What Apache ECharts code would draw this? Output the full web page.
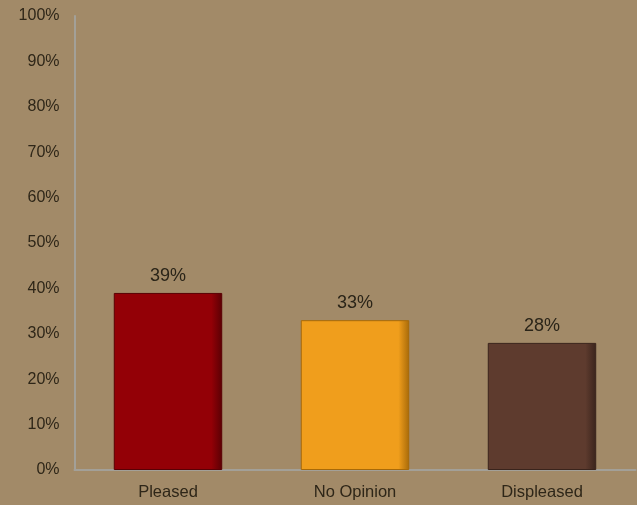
<!DOCTYPE html>
<html><head><meta charset="utf-8">
<script src="https://cdn.jsdelivr.net/npm/echarts@6/dist/echarts.min.js"></script>
<style>html,body{margin:0;padding:0;background:#a28a68;}#c{width:637px;height:505px;}</style>
</head><body><div id="c"></div>
<script>
const categories = ['Pleased', 'No Opinion', 'Displeased'];
const values = [39, 33, 28];
const barColors = ['#930006', '#f09e1c', '#5e3b2e'];
const edgeColors = ['#5a0004', '#a86a08', '#3a241c'];
const tickLabels = ['0%','10%','20%','30%','40%','50%','60%','70%','80%','90%','100%'];

const chart = echarts.init(document.getElementById('c'));
chart.setOption({
  backgroundColor: '#a28a68',
  animation: false,
  grid: { left: 74.5, right: 1.5, top: 16, bottom: 35 },
  xAxis: {
    type: 'category', data: categories,
    axisLine: { lineStyle: { color: '#a3a098', width: 2 } },
    axisTick: { show: false },
    axisLabel: { color: '#2e2618', fontSize: 16.5, fontFamily: 'Liberation Sans, Arial', margin: 14 }
  },
  yAxis: {
    type: 'value', min: 0, max: 100, interval: 10,
    axisLine: { show: true, lineStyle: { color: '#a3a098', width: 2 } },
    axisTick: { show: false },
    splitLine: { show: false },
    axisLabel: { color: '#2e2618', fontSize: 16, fontFamily: 'Liberation Sans, Arial', margin: 15,
      formatter: v => tickLabels[Math.round(v / 10)] }
  },
  series: [{
    type: 'bar', barWidth: '58%',
    data: values.map((v, i) => ({
      value: v,
      itemStyle: {
        color: { type: 'linear', x: 0, y: 0, x2: 1, y2: 0, colorStops: [
          { offset: 0, color: barColors[i] }, { offset: 0.9, color: barColors[i] }, { offset: 1, color: edgeColors[i] } ] },
        borderColor: edgeColors[i], borderWidth: 1
      }
    })),
    label: { show: true, position: 'top', distance: 8, color: '#2a2418', fontSize: 18,
      fontFamily: 'Liberation Sans, Arial', formatter: p => p.value + '%' }
  }]
});
</script></body></html>
